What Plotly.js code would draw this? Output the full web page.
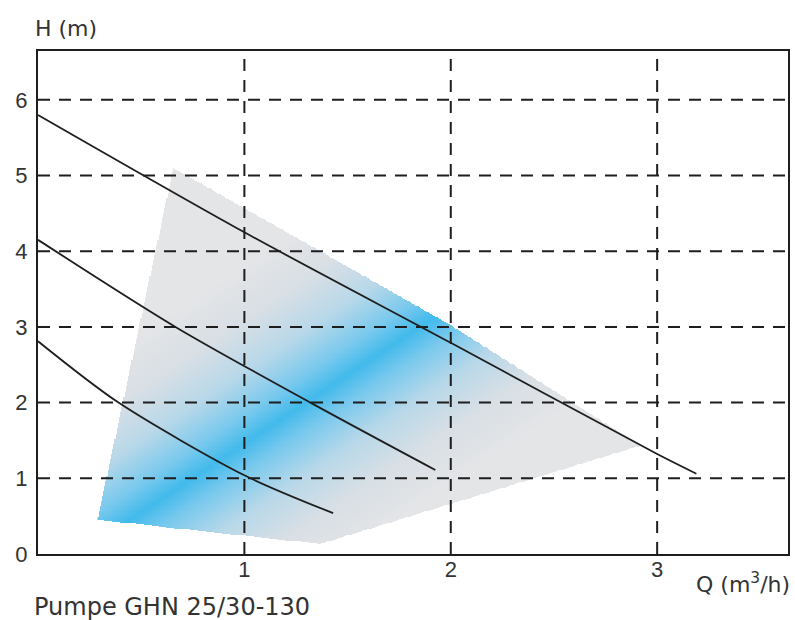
<!DOCTYPE html>
<html>
<head>
<meta charset="utf-8">
<script src="https://cdn.plot.ly/plotly-3.0.1.min.js"></script>
<style>html,body{margin:0;padding:0;background:#fff;}#chart{width:795px;height:620px;}</style>
</head>
<body>
<div id="chart"></div>
<script>
// ---- data ----
var curveHighQ = [0, 1.0, 2.0, 3.0, 3.19];
var curveHighH = [5.80, 4.25, 2.79, 1.32, 1.06];

var curveMidQ = [0, 0.666, 1.32, 1.925];
var curveMidH = [4.15, 3.00, 2.00, 1.11];

var curveLowQ = [0, 0.39, 1.0, 1.43];
var curveLowH = [2.81, 2.00, 1.04, 0.54];

// working range (shaded area) outline
var areaQ = [0.656, 2.00, 2.918, 1.368, 0.288];
var areaH = [5.10, 3.02, 1.43, 0.13, 0.45];

// axis ticks
var xTicks = [1, 2, 3];
var yTicks = [0, 1, 2, 3, 4, 5, 6];

var textColor = '#333333';
var lineColor = '#1e1e1e';
var font = 'Liberation Sans, Arial, sans-serif';

// ---- gradient fill of the working range (built from the outline) ----
var pxPerQ = 206.5, pxPerH = 75.7;          // plot scale, used for an isotropic gradient
var bandA = [0.496, 0.54], bandB = [1.949, 3.18];   // axis of the blue band
var ux = (bandB[0]-bandA[0])*pxPerQ, uy = (bandB[1]-bandA[1])*pxPerH;
var ul = Math.sqrt(ux*ux+uy*uy);
var nx = -uy/ul, ny = ux/ul;

function inside(q, h) {
  var c = false;
  for (var i = 0, j = areaQ.length-1; i < areaQ.length; j = i++) {
    var xi = areaQ[i], yi = areaH[i], xj = areaQ[j], yj = areaH[j];
    if (((yi > h) !== (yj > h)) && (q < (xj-xi)*(h-yi)/(yj-yi)+xi)) c = !c;
  }
  return c;
}
var qMin = Math.min.apply(null, areaQ), qMax = Math.max.apply(null, areaQ);
var hMin = Math.min.apply(null, areaH), hMax = Math.max.apply(null, areaH);
var nQ = 480, nH = 440;
var gx = [], gy = [], gz = [];
for (var i = 0; i < nQ; i++) gx.push(qMin + (qMax-qMin)*(i+0.5)/nQ);
for (var j = 0; j < nH; j++) gy.push(hMin + (hMax-hMin)*(j+0.5)/nH);
for (var j = 0; j < nH; j++) {
  var row = [];
  for (var i = 0; i < nQ; i++) {
    var q = gx[i], h = gy[j];
    if (!inside(q, h)) { row.push(null); continue; }
    var s = (q-bandA[0])*pxPerQ*nx + (h-bandA[1])*pxPerH*ny;
    row.push(Math.max(-150, Math.min(150, s)));
  }
  gz.push(row);
}

var bandScale = [
  [0, 'rgb(228,229,231)'],
  [0.16, 'rgb(216,223,229)'],
  [0.30, 'rgb(184,216,233)'],
  [0.42, 'rgb(122,201,237)'],
  [0.5, 'rgb(66,186,236)'],
  [0.58, 'rgb(122,201,237)'],
  [0.70, 'rgb(184,216,233)'],
  [0.84, 'rgb(216,223,229)'],
  [1, 'rgb(228,229,231)']
];

var traces = [
  {type: 'heatmap', x: gx, y: gy, z: gz, zmin: -150, zmax: 150, colorscale: bandScale,
   showscale: false, hoverinfo: 'skip', zsmooth: false},
  {type: 'scatter', mode: 'lines', x: curveHighQ, y: curveHighH,
   line: {color: lineColor, width: 1.8, shape: 'spline', smoothing: 0.8}, hoverinfo: 'skip'},
  {type: 'scatter', mode: 'lines', x: curveMidQ, y: curveMidH,
   line: {color: lineColor, width: 1.8, shape: 'spline', smoothing: 0.8}, hoverinfo: 'skip'},
  {type: 'scatter', mode: 'lines', x: curveLowQ, y: curveLowH,
   line: {color: lineColor, width: 1.8, shape: 'spline', smoothing: 0.8}, hoverinfo: 'skip'}
];

var shapes = [];
xTicks.forEach(function (v) {
  shapes.push({type: 'line', layer: 'above', xref: 'x', yref: 'paper', x0: v, x1: v, y0: 0, y1: 1,
    line: {color: lineColor, width: 2, dash: '12px,9px'}});
});
yTicks.forEach(function (v) {
  if (v === 0) return;
  shapes.push({type: 'line', layer: 'above', xref: 'paper', yref: 'y', x0: 0, x1: 1, y0: v, y1: v,
    line: {color: lineColor, width: 2, dash: '12px,9px'}});
});

var layout = {
  width: 795, height: 620,
  margin: {l: 38, r: 7, t: 51, b: 66},
  paper_bgcolor: '#ffffff', plot_bgcolor: '#ffffff',
  showlegend: false,
  font: {family: font, size: 19, color: textColor},
  xaxis: {range: [0, 3.634], tickvals: xTicks, ticktext: xTicks.map(String),
    showgrid: false, zeroline: false, showline: true, mirror: true,
    linecolor: lineColor, linewidth: 2, ticks: '', ticklabelstandoff: -5,
    tickfont: {family: font, size: 22, color: textColor}, fixedrange: true},
  yaxis: {range: [0, 6.645], tickvals: yTicks, ticktext: yTicks.map(String),
    showgrid: false, zeroline: false, showline: true, mirror: true,
    linecolor: lineColor, linewidth: 2, ticks: '', ticklabelstandoff: 4,
    tickfont: {family: font, size: 22, color: textColor}, fixedrange: true},
  shapes: shapes,
  annotations: [
    {text: 'H (m)', xref: 'paper', yref: 'paper', x: 0, y: 1, xanchor: 'left', yanchor: 'middle',
     xshift: -5, yshift: 23, showarrow: false, font: {family: 'DejaVu Sans, sans-serif', size: 22, color: textColor}},
    {text: 'Q (m<sup>3</sup>/h)', xref: 'paper', yref: 'paper', x: 1, y: 0, xanchor: 'right', yanchor: 'middle',
     xshift: 4, yshift: -29, showarrow: false, font: {family: 'DejaVu Sans, sans-serif', size: 22, color: textColor}},
    {text: 'Pumpe GHN 25/30-130', xref: 'paper', yref: 'paper', x: 0, y: 0, xanchor: 'left', yanchor: 'middle',
     xshift: -6, yshift: -53, showarrow: false, font: {family: 'DejaVu Sans, sans-serif', size: 24, color: textColor}}
  ]
};

Plotly.newPlot('chart', traces, layout, {displayModeBar: false, staticPlot: true});
</script>
</body>
</html>
